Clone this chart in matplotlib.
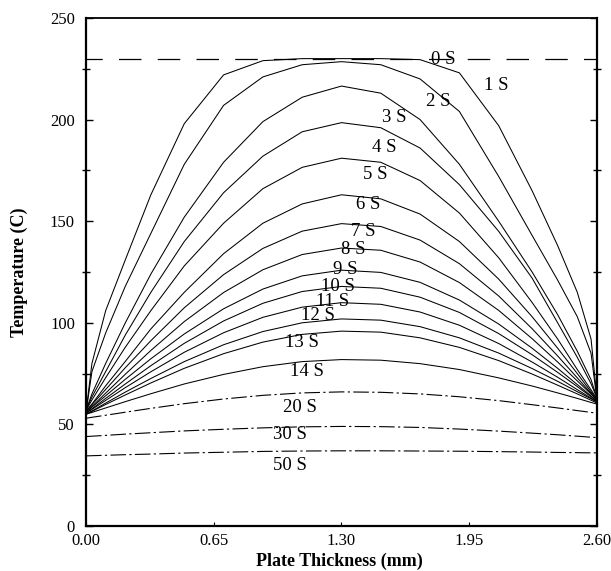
import matplotlib
matplotlib.use("Agg")
import matplotlib.pyplot as plt
from matplotlib.ticker import MultipleLocator

plt.rcParams['font.family'] = ['Liberation Serif', 'DejaVu Serif']

# positions across the plate (mm)
x_mm = [0.0, 0.03, 0.1, 0.2, 0.33, 0.5, 0.7, 0.9, 1.1, 1.3,
        1.5, 1.7, 1.9, 2.1, 2.27, 2.4, 2.5, 2.57, 2.6]

# temperature profiles (C)
t_0s = [230, 230, 230, 230, 230, 230, 230, 230, 230, 230,
        230, 230, 230, 230, 230, 230, 230, 230, 230]
t_1s = [56, 80, 106, 131, 163, 198, 222, 229, 230, 230,
        230, 229.5, 223, 197, 165, 138, 115, 92, 63]
t_2s = [56, 76, 95, 118, 144, 178, 207, 221, 227, 228.5,
        227, 220, 204, 172, 143, 121, 103, 85, 62]
t_3s = [57, 65, 80, 100, 124, 152, 179, 199, 211, 216.5,
        213, 200, 178, 150, 125, 104, 86, 72, 63]
t_4s = [57, 63.5, 76, 94, 115, 140, 164, 182, 194, 198.5,
        196, 186, 168, 145, 122, 100, 83, 70, 63]
t_5s = [57, 62, 73, 88, 106, 128, 149, 166, 176.5, 181,
        179, 170, 154, 132, 110, 92, 77, 67, 62.5]
t_6s = [56.5, 60, 69, 81, 97, 115, 134, 149, 158.5, 163,
        161, 153.5, 140, 121.5, 103, 87.5, 75, 66, 62.5]
t_7s = [56.5, 59.7, 67.2, 77.9, 91.2, 107.4, 123.7, 136.6, 145.1, 148.8,
        147.4, 140.7, 129.1, 113.2, 97.1, 83.7, 72.9, 65.3, 62]
t_8s = [56, 58.8, 65.4, 74.7, 86.4, 100.6, 114.9, 126.1, 133.6, 136.8,
        135.7, 129.9, 119.8, 106.1, 92.2, 80.7, 71.4, 64.9, 62]
t_9s = [56, 58.5, 64.1, 72.2, 82.3, 94.5, 106.9, 116.6, 123.1, 125.9,
        124.8, 119.9, 111.2, 99.4, 87.5, 77.6, 69.6, 64, 61.5]
t_10s = [55.5, 57.7, 62.8, 69.9, 78.9, 89.9, 100.9, 109.6, 115.4, 117.9,
         117, 112.6, 105.1, 94.7, 84.3, 75.6, 68.6, 63.6, 61.5]
t_11s = [55.5, 57.4, 61.8, 68.1, 75.9, 85.5, 95.1, 102.7, 107.7, 109.9,
         109.1, 105.3, 98.8, 89.8, 80.7, 73.2, 67.1, 62.9, 61]
t_12s = [55, 56.6, 60.5, 65.9, 72.6, 80.9, 89.2, 95.7, 100, 101.9,
         101.3, 98.1, 92.6, 85.1, 77.5, 71.2, 66.1, 62.6, 61]
t_13s = [55, 56.4, 59.8, 64.5, 70.4, 77.6, 84.8, 90.5, 94.3, 95.9,
         95.4, 92.6, 87.9, 81.4, 74.8, 69.3, 65, 61.9, 60.5]
t_14s = [55, 55.9, 58.1, 61.2, 65.1, 69.9, 74.6, 78.4, 80.9, 81.9,
         81.6, 79.9, 77, 72.9, 68.9, 65.5, 62.8, 60.8, 60]
t_20s = [53, 53.5, 54.5, 56, 57.9, 60.2, 62.5, 64.3, 65.5, 66,
         65.8, 65, 63.6, 61.7, 59.7, 58.1, 56.8, 55.9, 55.5]
t_30s = [44, 44.2, 44.6, 45.2, 45.9, 46.8, 47.6, 48.3, 48.8, 49,
         48.9, 48.5, 47.7, 46.7, 45.7, 44.9, 44.2, 43.7, 43.5]
t_50s = [34.5, 34.6, 34.8, 35.1, 35.4, 35.9, 36.3, 36.7, 36.9, 37,
         37, 36.9, 36.8, 36.6, 36.4, 36.2, 36.1, 36, 36]

labels = ["0 S", "1 S", "2 S", "3 S", "4 S", "5 S", "6 S", "7 S", "8 S",
          "9 S", "10 S", "11 S", "12 S", "13 S", "14 S", "20 S", "30 S", "50 S"]
# where each label sits (mm, C)
label_x = [1.82, 2.09, 1.79, 1.57, 1.52, 1.47, 1.435, 1.41, 1.36,
           1.318, 1.282, 1.257, 1.18, 1.10, 1.125, 1.09, 1.04, 1.04]
label_t = [229.6, 216.7, 208.9, 201, 186.2, 172.9, 158.1, 144.8, 136,
           126.1, 117.7, 110.3, 103.4, 90.1, 75.9, 58.1, 44.8, 30]

x_ticks = [0.0, 0.65, 1.30, 1.95, 2.60]
y_ticks = [0, 50, 100, 150, 200, 250]

profiles = [t_0s, t_1s, t_2s, t_3s, t_4s, t_5s, t_6s, t_7s, t_8s, t_9s,
            t_10s, t_11s, t_12s, t_13s, t_14s, t_20s, t_30s, t_50s]

fig = plt.figure(figsize=(6.11, 5.71), dpi=100)
ax = fig.add_axes([0.1408, 0.0788, 0.977 - 0.1408, 0.9685 - 0.0788])

for i, prof in enumerate(profiles):
    if i == 0:
        ax.plot(x_mm, prof, color='black', lw=0.9, linestyle=(-26, (18, 13)))
    elif i >= 15:
        ax.plot(x_mm, prof, color='black', lw=0.8, linestyle=(0, (14, 3, 2, 3)))
    else:
        ax.plot(x_mm, prof, color='black', lw=0.75)

for lab, lx, lt in zip(labels, label_x, label_t):
    ax.text(lx, lt, lab, fontsize=13.5, ha='center', va='center', color='black')

ax.set_xlim(0, 2.6)
ax.set_ylim(0, 250)
ax.set_xticks(x_ticks)
ax.set_xticklabels(["%.2f" % v for v in x_ticks])
ax.set_yticks(y_ticks)
ax.yaxis.set_minor_locator(MultipleLocator(25))
ax.tick_params(axis='both', labelsize=12, colors='black')
ax.tick_params(axis='y', which='major', direction='in', length=5, width=1, pad=8,
               right=True)
ax.tick_params(axis='y', which='minor', direction='inout', length=6, width=1,
               right=True)
ax.tick_params(axis='x', which='major', direction='in', length=3, width=0.8, pad=5)

for side in ['left', 'bottom', 'right']:
    ax.spines[side].set_linewidth(1.6)
ax.spines['top'].set_linewidth(1.3)

ax.set_xlabel("Plate Thickness (mm)", fontsize=13, fontweight='bold')
ax.set_ylabel("Temperature (C)", fontsize=13, fontweight='bold')
ax.xaxis.set_label_coords(0.495, -0.053)
ax.yaxis.set_label_coords(-0.1135, 0.5)

fig.savefig("out.png", dpi=100)
